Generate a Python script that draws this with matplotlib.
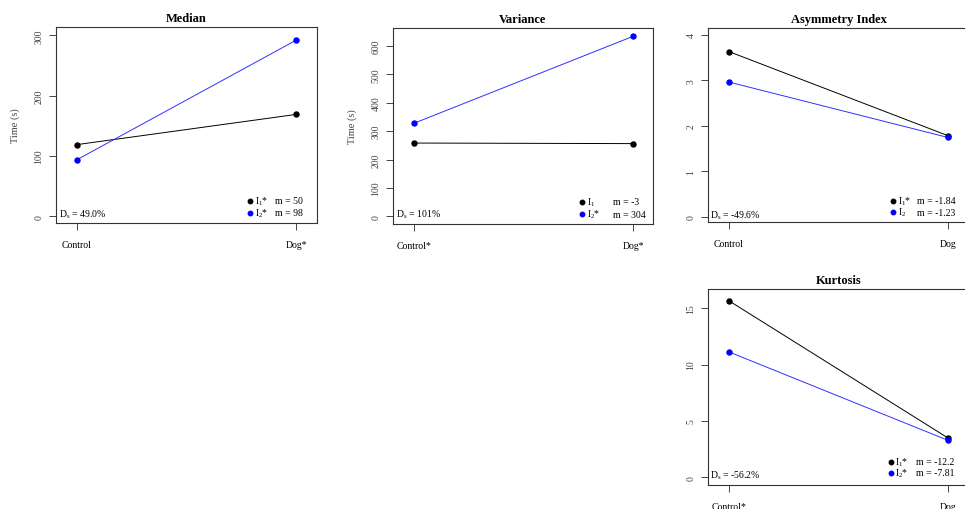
import numpy as np
import matplotlib.pyplot as plt

# two groups, values per condition
conditions = ['Control', 'Dog']
median_i1 = [119, 169]
median_i2 = [94, 292]
variance_i1 = [258, 256]
variance_i2 = [328, 634]
asym_i1 = [3.63, 1.78]
asym_i2 = [2.96, 1.74]
kurt_i1 = [15.65, 3.49]
kurt_i2 = [11.12, 3.28]

W, H = 965, 510

plt.rcParams['font.family'] = ['Liberation Serif', 'DejaVu Serif']
plt.rcParams['mathtext.fontset'] = 'custom'
plt.rcParams['mathtext.rm'] = 'Liberation Serif'
plt.rcParams['mathtext.it'] = 'Liberation Serif:italic'
plt.rcParams['axes.unicode_minus'] = False

fig = plt.figure(figsize=(W / 100, H / 100), dpi=100)


def px_axes(x0, y0, x1, y1):
    # axes from pixel box (top-left origin)
    return fig.add_axes([x0 / W, 1 - y1 / H, (x1 - x0) / W, (y1 - y0) / H])


def fig_text(x, y, s, **kw):
    fig.text(x / W, 1 - y / H, s, fontsize=7, va='center', **kw)


panels = [
    dict(title='Median', box=(56, 28, 317, 224), ylim=(-11, 314), xlim=(0.904, 2.096),
         yticks=[0, 100, 200, 300], ylabel='Time (s)', xlab=['Control', 'Dog*'],
         i1=median_i1, i2=median_i2, names=['I$_1$*', 'I$_2$*'], ms=['m = 50', 'm = 98'],
         ds='49.0%', leg=(250, 255, 275, 202, 214), dspos=(59, 215), ylabx=15),
    dict(title='Variance', box=(393, 29, 653, 225), ylim=(-27, 663), xlim=(0.903, 2.09),
         yticks=[0, 100, 200, 300, 400, 500, 600], ylabel='Time (s)', xlab=['Control*', 'Dog*'],
         i1=variance_i1, i2=variance_i2, names=['I$_1$', 'I$_2$*'], ms=['m = -3', 'm = 304'],
         ds='101%', leg=(582, 587, 613, 203, 215), dspos=(396, 215), ylabx=352),
    dict(title='Asymmetry Index', box=(708, 29, 969, 223), ylim=(-0.12, 4.15), xlim=(0.904, 2.096),
         yticks=[0, 1, 2, 3, 4], ylabel=None, xlab=['Control', 'Dog'],
         i1=asym_i1, i2=asym_i2, names=['I$_1$*', 'I$_2$'], ms=['m = -1.84', 'm = -1.23'],
         ds='-49.6%', leg=(893, 898, 917, 202, 213), dspos=(710, 216), ylabx=None),
    dict(title='Kurtosis', box=(708, 290, 969, 486), ylim=(-0.68, 16.7), xlim=(0.904, 2.096),
         yticks=[0, 5, 10, 15], ylabel=None, xlab=['Control*', 'Dog'],
         i1=kurt_i1, i2=kurt_i2, names=['I$_1$*', 'I$_2$*'], ms=['m = -12.2', 'm = -7.81'],
         ds='-56.2%', leg=(891, 895, 916, 463, 474), dspos=(710, 476), ylabx=None),
]

x = np.arange(1, len(conditions) + 1)

for p in panels:
    ax = px_axes(*p['box'])
    ax.plot(x, p['i1'], '-', color='black', lw=0.7, marker='o', ms=3.6, clip_on=False)
    ax.plot(x, p['i2'], '-', color='#3030ff', lw=0.7, marker='o', ms=3.6,
            mfc='blue', mec='blue', clip_on=False)
    ax.set_xlim(*p['xlim'])
    ax.set_ylim(*p['ylim'])
    ax.set_xticks(x)
    ax.set_xticklabels(p['xlab'], fontsize=7)
    ax.set_yticks(p['yticks'])
    ax.set_yticklabels([str(v) for v in p['yticks']], fontsize=7, rotation=90, va='center')
    ax.tick_params(axis='x', length=5, width=0.7, pad=7, colors='#444444', labelcolor='black')
    ax.tick_params(axis='y', length=5, width=0.7, pad=4, colors='#444444', labelcolor='#444444')
    for s in ax.spines.values():
        s.set_linewidth(0.8)
        s.set_color('#333333')
    ax.set_title(p['title'], fontsize=9, fontweight='bold', pad=4)
    if p['ylabel']:
        b = p['box']
        fig.text(p['ylabx'] / W, 1 - (b[1] + b[3]) / 2 / H, p['ylabel'], fontsize=7.5,
                 rotation=90, va='center', ha='center', color='#444444')

    # legend, R style bottomright without frame
    dx, ix, mx, y1, y2 = p['leg']
    for yy, col, nm, mt in [(y1, 'black', p['names'][0], p['ms'][0]),
                            (y2, 'blue', p['names'][1], p['ms'][1])]:
        fig.lines.append(plt.Line2D([dx / W], [1 - yy / H], marker='o', ms=3.2, color=col,
                                    transform=fig.transFigure))
        fig_text(ix, yy, nm)
        fig_text(mx, yy, mt)
    fig_text(p['dspos'][0], p['dspos'][1], 'D$_\\mathrm{s}$ = ' + p['ds'])

fig.savefig('out.png', dpi=100)
